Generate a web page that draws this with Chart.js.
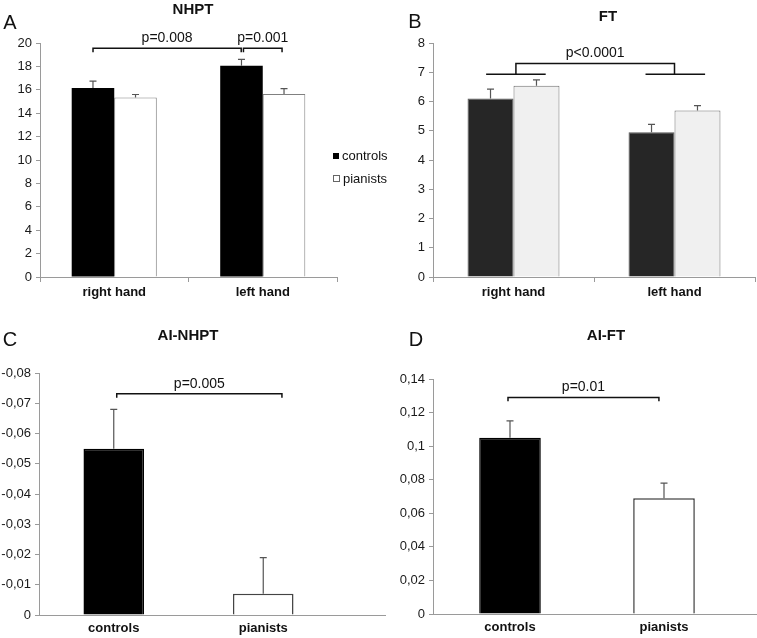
<!DOCTYPE html>
<html>
<head>
<meta charset="utf-8">
<script src="https://cdn.jsdelivr.net/npm/chart.js@4.4.0/dist/chart.umd.min.js"></script>
<style>
  body { margin: 0; background: #fff; }
  #page { position: relative; width: 757px; height: 638px; overflow: hidden;
          font-family: "Liberation Sans", Arial, sans-serif; color: #111; }
  canvas { position: absolute; }
  .lbl { position: absolute; transform: translate(-50%, -50%); line-height: 1; white-space: nowrap; }
  .letter { font-size: 20px; }
  .title { font-size: 15px; font-weight: bold; }
  .legend { position: absolute; font-size: 13px; line-height: 1; white-space: nowrap; }
  .legend span { display: inline-block; width: 6px; height: 6px; margin-right: 3px; vertical-align: 1px; }
</style>
</head>
<body>
<div id="page">
  <canvas id="nhpt"   width="380" height="310" style="left:0;top:0"></canvas>
  <canvas id="ft"     width="377" height="310" style="left:380px;top:0"></canvas>
  <canvas id="aiNhpt" width="390" height="338" style="left:0;top:300px"></canvas>
  <canvas id="aiFt"   width="377" height="338" style="left:380px;top:300px"></canvas>

  <div class="lbl letter" style="left:10px;top:22px">A</div>
  <div class="lbl letter" style="left:415px;top:21px">B</div>
  <div class="lbl letter" style="left:10px;top:339px">C</div>
  <div class="lbl letter" style="left:416px;top:339px">D</div>

  <div class="lbl title" style="left:193px;top:8px">NHPT</div>
  <div class="lbl title" style="left:608px;top:15px">FT</div>
  <div class="lbl title" style="left:188px;top:334px">AI-NHPT</div>
  <div class="lbl title" style="left:606px;top:334px">AI-FT</div>

  <div class="legend" style="left:333px;top:149px"><span style="background:#000"></span>controls</div>
  <div class="legend" style="left:333px;top:172px"><span style="background:#fff;border:1px solid #666;width:5px;height:5px"></span>pianists</div>
</div>

<script>
// ── Data ─────────────────────────────────────────────────────
const handLabels  = ['right hand', 'left hand'];
const groupLabels = ['controls', 'pianists'];

// A: Nine Hole Peg Test (mean and SEM)
const nhptControls    = [16.15, 18.05];
const nhptControlsSem = [0.6, 0.55];
const nhptPianists    = [15.35, 15.65];
const nhptPianistsSem = [0.25, 0.45];

// B: Finger Tapping
const ftControls    = [6.10, 4.95];
const ftControlsSem = [0.32, 0.27];
const ftPianists    = [6.54, 5.69];
const ftPianistsSem = [0.20, 0.17];

// C: asymmetry index NHPT (controls, pianists)
const aiNhptValues = [-0.055, -0.007];
const aiNhptSem    = [0.013, 0.012];

// D: asymmetry index FT (controls, pianists)
const aiFtValues = [0.105, 0.069];
const aiFtSem    = [0.010, 0.009];

Chart.defaults.font.family = '"Liberation Sans", Arial, sans-serif';
Chart.defaults.color = '#1a1a1a';

const AXIS_GREY = '#9a9a9a';

// ── Error bars (upper only) ──────────────────────────────────
const errorBars = {
    id: 'errorBars',
    afterDatasetsDraw(chart) {
        const ctx = chart.ctx;
        const y = chart.scales.y;
        chart.data.datasets.forEach((ds, i) => {
            if (!ds.sem) return;
            chart.getDatasetMeta(i).data.forEach((bar, j) => {
                const v   = ds.data[j];
                const top = y.getPixelForValue(v + Math.sign(v) * ds.sem[j]);
                ctx.save();
                ctx.strokeStyle = '#555';
                ctx.lineWidth = 1.2;
                ctx.beginPath();
                ctx.moveTo(bar.x, bar.y);
                ctx.lineTo(bar.x, top);
                ctx.moveTo(bar.x - 3.5, top);
                ctx.lineTo(bar.x + 3.5, top);
                ctx.stroke();
                ctx.restore();
            });
        });
    }
};

// ── Significance brackets ────────────────────────────────────
// x1/x2 in category units, y/yEnd in data units
const brackets = {
    id: 'brackets',
    afterDatasetsDraw(chart, args, opts) {
        const ctx = chart.ctx;
        const xs = chart.scales.x, ys = chart.scales.y;
        (opts.items || []).forEach(b => {
            const x1 = xs.getPixelForValue(b.x1);
            const x2 = xs.getPixelForValue(b.x2);
            const yy = ys.getPixelForValue(b.y);
            ctx.save();
            ctx.strokeStyle = '#111';
            ctx.lineWidth = 1.5;
            ctx.beginPath();
            if (b.yEnd !== undefined) {
                const ye = ys.getPixelForValue(b.yEnd);
                ctx.moveTo(x1, ye); ctx.lineTo(x1, yy);
                ctx.lineTo(x2, yy); ctx.lineTo(x2, ye);
            } else {
                ctx.moveTo(x1, yy); ctx.lineTo(x2, yy);
            }
            ctx.stroke();
            if (b.label) {
                ctx.fillStyle = '#111';
                ctx.font = '14px "Liberation Sans", Arial, sans-serif';
                ctx.textAlign = 'center';
                ctx.textBaseline = 'bottom';
                ctx.fillText(b.label, (x1 + x2) / 2, yy - 3);
            }
            ctx.restore();
        });
    }
};

// Extends the x axis line past the chart area (Excel look)
const axisTail = {
    id: 'axisTail',
    afterDraw(chart, args, opts) {
        if (!opts.to) return;
        const ctx = chart.ctx, a = chart.chartArea;
        ctx.save();
        ctx.strokeStyle = AXIS_GREY;
        ctx.lineWidth = 1;
        ctx.beginPath();
        ctx.moveTo(a.right, a.bottom + 0.5);
        ctx.lineTo(opts.to, a.bottom + 0.5);
        ctx.stroke();
        ctx.restore();
    }
};

const commaFmt = v => String(Math.round(v * 100) / 100).replace('.', ',');

// Shared axis builder
function axes({ min, max, step, yWidth, xTicks, fmt, reverse }) {
    return {
        x: {
            grid: { drawOnChartArea: false, drawTicks: xTicks, tickLength: 5, color: AXIS_GREY },
            border: { color: AXIS_GREY },
            ticks: { font: { size: 13, weight: 'bold' }, color: '#111', padding: xTicks ? 3 : 6 },
            afterFit: s => { s.height = 22; }
        },
        y: {
            min, max, reverse,
            grid: { drawOnChartArea: false, tickLength: 4, color: AXIS_GREY },
            border: { color: AXIS_GREY },
            ticks: { stepSize: step, font: { size: 13 }, padding: 4, callback: fmt || (v => v) },
            afterFit: s => { s.width = yWidth; }
        }
    };
}

function baseOptions(padding, scales, bracketItems, tail) {
    return {
        responsive: false,
        animation: false,
        devicePixelRatio: 1,
        layout: { padding },
        scales,
        plugins: {
            legend: { display: false },
            tooltip: { enabled: false },
            brackets: { items: bracketItems },
            axisTail: { to: tail }
        }
    };
}

// ── A: NHPT ──────────────────────────────────────────────────
new Chart(document.getElementById('nhpt'), {
    type: 'bar',
    data: {
        labels: handLabels,
        datasets: [
            { label: 'controls', data: nhptControls, sem: nhptControlsSem,
              backgroundColor: '#000', barPercentage: 1, categoryPercentage: 0.573 },
            { label: 'pianists', data: nhptPianists, sem: nhptPianistsSem,
              backgroundColor: '#fff', borderColor: '#808080', borderWidth: 1,
              barPercentage: 1, categoryPercentage: 0.573 }
        ]
    },
    options: baseOptions(
        { top: 43, bottom: 11, left: 0, right: 43 },
        axes({ min: 0, max: 20, step: 2, yWidth: 40, xTicks: true }),
        [
            { x1: -0.143, x2: 0.855, y: 19.55, yEnd: 19.2, label: 'p=0.008' },
            { x1: 0.87, x2: 1.13, y: 19.55, yEnd: 19.2, label: 'p=0.001' }
        ]
    ),
    plugins: [errorBars, brackets, axisTail]
});

// ── B: FT ────────────────────────────────────────────────────
new Chart(document.getElementById('ft'), {
    type: 'bar',
    data: {
        labels: handLabels,
        datasets: [
            { label: 'controls', data: ftControls, sem: ftControlsSem,
              backgroundColor: '#262626', borderColor: '#555', borderWidth: 1,
              barPercentage: 1, categoryPercentage: 0.571 },
            { label: 'pianists', data: ftPianists, sem: ftPianistsSem,
              backgroundColor: '#f0f0f0', borderColor: '#707070', borderWidth: 1,
              barPercentage: 1, categoryPercentage: 0.571 }
        ]
    },
    options: baseOptions(
        { top: 43, bottom: 11, left: 0, right: 2 },
        axes({ min: 0, max: 8, step: 1, yWidth: 53, xTicks: true }),
        [
            { x1: -0.17, x2: 0.2, y: 6.93 },
            { x1: 0.82, x2: 1.19, y: 6.93 },
            { x1: 0.015, x2: 1.0, y: 7.3, yEnd: 6.93, label: 'p<0.0001' }
        ]
    ),
    plugins: [errorBars, brackets, axisTail]
});

// ── C: AI-NHPT ───────────────────────────────────────────────
new Chart(document.getElementById('aiNhpt'), {
    type: 'bar',
    data: {
        labels: groupLabels,
        datasets: [
            { data: aiNhptValues, sem: aiNhptSem,
              backgroundColor: ['#000', '#fff'], borderColor: ['#000', '#444'], borderWidth: 1.5,
              barPercentage: 1, categoryPercentage: 0.405 }
        ]
    },
    options: baseOptions(
        { top: 73, bottom: 1, left: 0, right: 52 },
        axes({ min: -0.08, max: 0, step: 0.01, yWidth: 39, xTicks: false, fmt: commaFmt, reverse: true }),
        [ { x1: 0.02, x2: 1.125, y: -0.0731, yEnd: -0.0718, label: 'p=0.005' } ],
        386
    ),
    plugins: [errorBars, brackets, axisTail]
});

// ── D: AI-FT ─────────────────────────────────────────────────
new Chart(document.getElementById('aiFt'), {
    type: 'bar',
    data: {
        labels: groupLabels,
        datasets: [
            { data: aiFtValues, sem: aiFtSem,
              backgroundColor: ['#000', '#fff'], borderColor: ['#000', '#333'], borderWidth: 1.5,
              barPercentage: 1, categoryPercentage: 0.4 }
        ]
    },
    options: baseOptions(
        { top: 79, bottom: 2, left: 0, right: 16 },
        axes({ min: 0, max: 0.14, step: 0.02, yWidth: 53, xTicks: false, fmt: commaFmt }),
        [ { x1: -0.013, x2: 0.967, y: 0.129, yEnd: 0.1268, label: 'p=0.01' } ],
        377
    ),
    plugins: [errorBars, brackets, axisTail]
});
</script>
</body>
</html>
